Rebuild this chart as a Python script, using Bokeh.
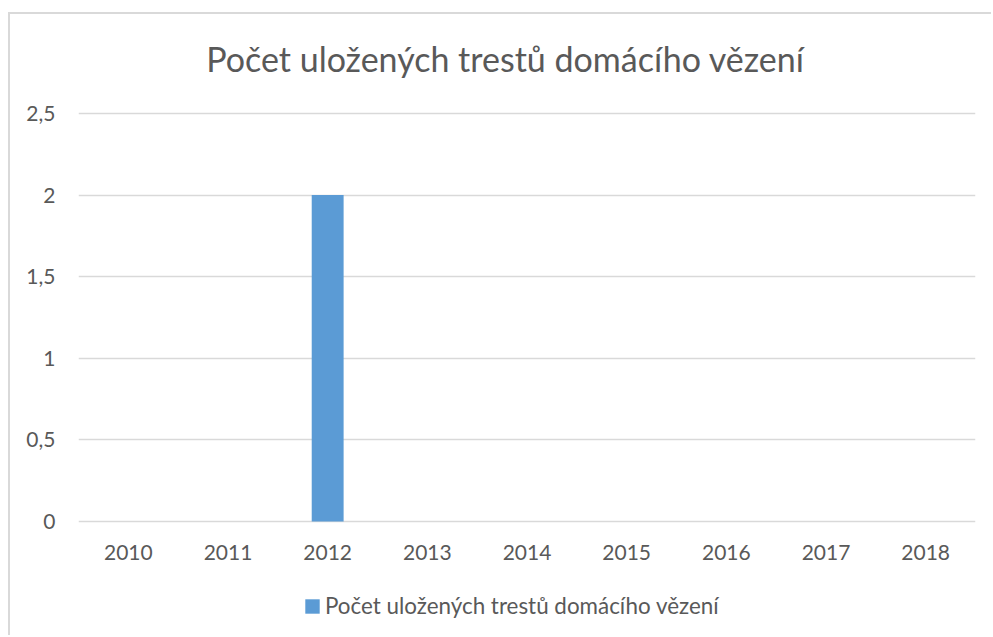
from bokeh.plotting import figure
from bokeh.models import (ColumnDataSource, FixedTicker, CustomJSTickFormatter, Legend,
                          LegendItem, Label, Range1d)
from bokeh.embed import file_html
from bokeh.resources import INLINE

# data
years = ["2010", "2011", "2012", "2013", "2014", "2015", "2016", "2017", "2018"]
counts = [0, 0, 2, 0, 0, 0, 0, 0, 0]
y_ticks = [0, 0.5, 1, 1.5, 2, 2.5]
title_text = "Počet uložených trestů domácího vězení"
series_name = "Počet uložených trestů domácího vězení"

FONT = "Lato"
TXT = "#595959"
GRID = "#d9d9d9"

# layout (pixels inside the canvas)
W, H = 983, 623
FRAME_TOP_PX = 99          # where value 2.5 sits
FRAME_ZERO_PX = 507        # where value 0 sits
px_per_unit = (FRAME_ZERO_PX - FRAME_TOP_PX) / 2.5
y_hi = 2.5 + FRAME_TOP_PX / px_per_unit
y_lo = -(H - FRAME_ZERO_PX) / px_per_unit

src = ColumnDataSource(dict(year=years, count=counts))

p = figure(
    x_range=years, y_range=Range1d(y_lo, y_hi),
    width=W, height=H, title=None,
    output_backend="svg", toolbar_location=None,
    min_border_left=68, min_border_right=18,
    min_border_top=0, min_border_bottom=0,
)
p.styles = {"border-top": "2px solid #d9d9d9", "border-left": "2px solid #d9d9d9",
            "position": "relative", "left": "8px", "top": "12px"}

r = p.vbar(x="year", top="count", bottom=0, width=0.32, source=src,
           color="#5B9BD5", line_color=None)

p.outline_line_color = None
p.xgrid.grid_line_color = None
p.ygrid.grid_line_color = GRID
p.ygrid.grid_line_width = 1.5

p.yaxis.ticker = FixedTicker(ticks=y_ticks)
p.yaxis.formatter = CustomJSTickFormatter(code="return tick.toString().replace('.', ',');")
p.yaxis.axis_line_color = None
p.yaxis.major_tick_line_color = None
p.yaxis.minor_tick_line_color = None
p.yaxis.major_label_standoff = 17

p.xaxis.axis_line_color = None
p.xaxis.major_tick_line_color = None
p.xaxis.minor_tick_line_color = None
p.xaxis.major_label_standoff = -30
p.xaxis.fixed_location = -47 / px_per_unit

for ax in (p.xaxis, p.yaxis):
    ax.major_label_text_font = FONT
    ax.major_label_text_font_size = "21px"
    ax.major_label_text_color = TXT

title = Label(x=(505 - 78) / ((975 - 78) / 9), y=2.5 + (113 - 58) / px_per_unit,
              text=title_text, text_align="center", text_baseline="alphabetic",
              text_font=FONT, text_font_size="34px", text_color=TXT)
p.add_layout(title)

legend = Legend(items=[LegendItem(label=series_name, renderers=[r])],
                location=(225, 18), orientation="horizontal")
legend.label_text_font = FONT
legend.label_text_font_size = "22.4px"
legend.label_text_color = TXT
legend.glyph_width = 18
legend.glyph_height = 18
legend.label_standoff = 4
legend.label_height = 26
legend.padding = 0
legend.spacing = 0
legend.margin = 0
legend.border_line_color = None
legend.background_fill_alpha = 0
p.add_layout(legend, "center")

open("out.html", "w").write(file_html(p, INLINE))
